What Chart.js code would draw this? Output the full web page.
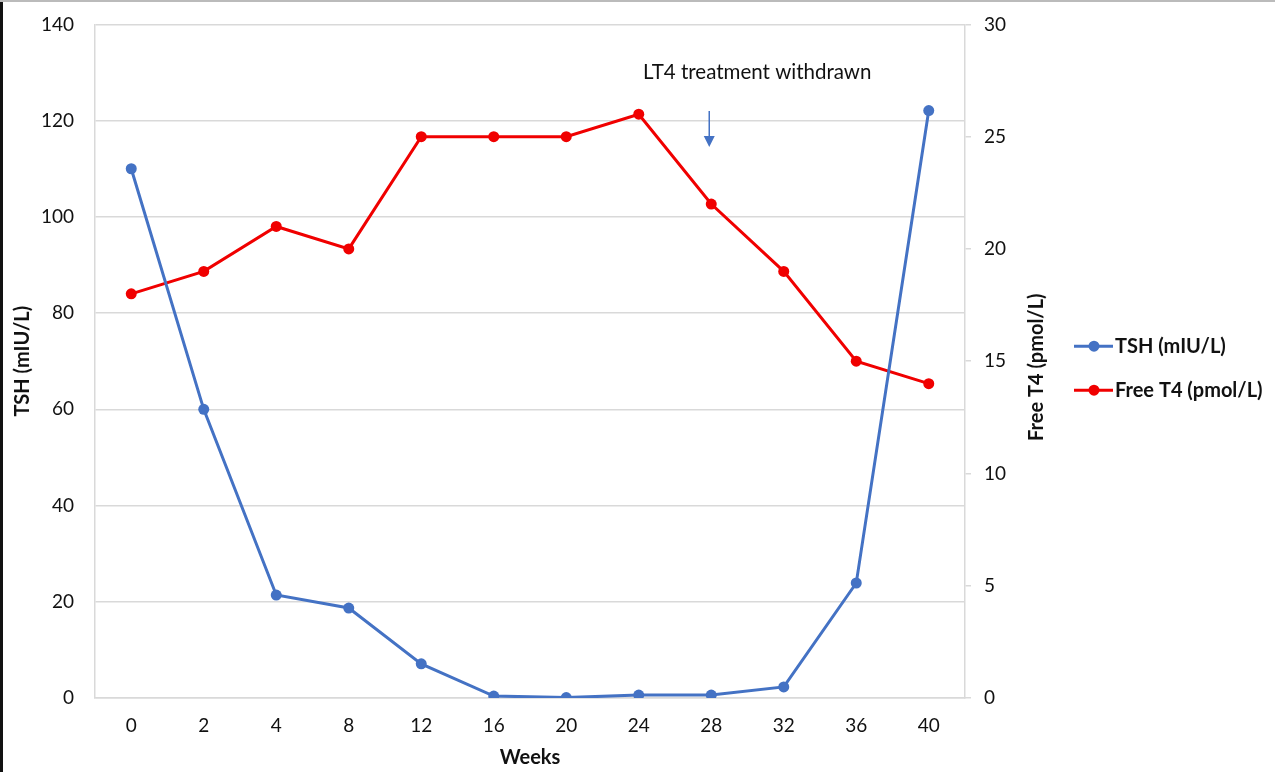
<!DOCTYPE html>
<html>
<head>
<meta charset="utf-8">
<script src="https://cdn.jsdelivr.net/npm/chart.js@4"></script>
<style>
  html, body { margin: 0; padding: 0; background: #fff; overflow: hidden; }
  #wrap { position: relative; width: 1275px; height: 772px; overflow: hidden; }
  #box { position: absolute; left: 0; top: -8px; width: 1275px; height: 780px; }
  #edge-left { position: absolute; left: 0; top: 0; width: 3px; height: 772px; background: #111; }
  #edge-top { position: absolute; left: 0; top: 0; width: 1275px; height: 2px; background: #bbb; }
</style>
</head>
<body>
<div id="wrap">
  <div id="box"><canvas id="chart"></canvas></div>
  <div id="edge-left"></div>
  <div id="edge-top"></div>
</div>
<script>
"use strict";

// Weeks since start, TSH (left axis) and free T4 (right axis).
const weeks = ["0", "2", "4", "8", "12", "16", "20", "24", "28", "32", "36", "40"];
const tsh = [110, 60, 21.4, 18.7, 7.1, 0.4, 0.1, 0.6, 0.6, 2.3, 23.9, 122.1];
const freeT4 = [18, 19, 21, 20, 25, 25, 25, 26, 22, 19, 15, 14];

// Arrow marking when LT4 was stopped (week, TSH-scale start/end of the arrow).
const noteWeek = "28";
const noteText = "LT4 treatment withdrawn";
const noteArrow = [122, 114.5];
const noteTextLevel = 130;

const BLUE = "#4472C4";
const RED = "#F00000";
const GRID = "#d9d9d9";
const FONT = "Lato, 'Open Sans', sans-serif";

// Draws the note, the right axis title (reads bottom-up) and the legend.
const extras = {
  id: "extras",
  afterDraw(chart) {
    const { ctx, chartArea, scales } = chart;
    const x = scales.x, y = scales.y;
    ctx.save();

    // note + arrow
    const ax = x.getPixelForValue(weeks.indexOf(noteWeek)) - 2;
    const y0 = y.getPixelForValue(noteArrow[0]);
    const y1 = y.getPixelForValue(noteArrow[1]);
    ctx.strokeStyle = BLUE;
    ctx.fillStyle = BLUE;
    ctx.lineWidth = 1.5;
    ctx.beginPath();
    ctx.moveTo(ax, y0);
    ctx.lineTo(ax, y1 - 10);
    ctx.stroke();
    ctx.beginPath();
    ctx.moveTo(ax - 5.5, y1 - 11);
    ctx.lineTo(ax + 5.5, y1 - 11);
    ctx.lineTo(ax, y1);
    ctx.closePath();
    ctx.fill();

    ctx.fillStyle = "#111";
    ctx.font = `20.5px ${FONT}`;
    ctx.textAlign = "center";
    ctx.textBaseline = "middle";
    ctx.fillText(noteText, ax + 48, y.getPixelForValue(noteTextLevel));

    // right axis title
    const mid = (chartArea.top + chartArea.bottom) / 2;
    ctx.save();
    ctx.translate(1037, mid + 6);
    ctx.rotate(-Math.PI / 2);
    ctx.font = `bold 20px ${FONT}`;
    ctx.fillText("Free T4 (pmol/L)", 0, 0);
    ctx.restore();

    // legend
    chart.data.datasets.forEach((ds, i) => {
      const ly = mid - 15 + i * 44;
      ctx.strokeStyle = ds.borderColor;
      ctx.fillStyle = ds.borderColor;
      ctx.lineWidth = 3;
      ctx.beginPath();
      ctx.moveTo(1074, ly);
      ctx.lineTo(1113, ly);
      ctx.stroke();
      ctx.beginPath();
      ctx.arc(1094, ly, 5.5, 0, Math.PI * 2);
      ctx.fill();
      ctx.fillStyle = "#111";
      ctx.font = `bold 20px ${FONT}`;
      ctx.textAlign = "left";
      ctx.fillText(ds.label, 1115, ly);
    });
    ctx.restore();
  },
};

const titleFont = { family: FONT, size: 20, weight: "bold" };
const tickFont = { family: FONT, size: 19 };

const cfg = {
  type: "line",
  data: {
    labels: weeks,
    datasets: [
      {
        label: "TSH (mIU/L)",
        yAxisID: "y",
        data: tsh,
        borderColor: BLUE,
        backgroundColor: BLUE,
        borderWidth: 3,
        pointRadius: 5.5,
        pointBorderWidth: 0,
        tension: 0,
      },
      {
        label: "Free T4 (pmol/L)",
        yAxisID: "y1",
        data: freeT4,
        borderColor: RED,
        backgroundColor: RED,
        borderWidth: 3,
        pointRadius: 5.5,
        pointBorderWidth: 0,
        tension: 0,
      },
    ],
  },
  options: {
    responsive: true,
    maintainAspectRatio: false,
    animation: false,
    layout: { padding: { top: 13, right: 224, bottom: 0, left: 0 } },
    plugins: { legend: { display: false }, tooltip: { enabled: false } },
    scales: {
      x: {
        offset: true,
        grid: { display: false, drawTicks: false },
        border: { color: GRID, width: 1.5 },
        ticks: { color: "#111", font: tickFont, padding: 16 },
        title: { display: true, text: "Weeks", color: "#111", font: titleFont, padding: { top: 0, bottom: 2 } },
        afterFit: (s) => { s.height = 74; },
      },
      y: {
        position: "left",
        min: 0, max: 140,
        ticks: { stepSize: 20, color: "#111", font: tickFont, padding: 21 },
        grid: { color: GRID, lineWidth: 1.5, drawTicks: false },
        border: { color: GRID, width: 1.5 },
        title: { display: true, text: "TSH (mIU/L)", color: "#111", font: titleFont, padding: { top: 11, bottom: 0 } },
        afterFit: (s) => { s.width = 95; },
      },
      y1: {
        position: "right",
        min: 0, max: 30,
        ticks: { stepSize: 5, color: "#111", font: tickFont, padding: 13 },
        grid: { drawOnChartArea: false, color: GRID, tickColor: GRID, tickLength: 6, lineWidth: 1.5 },
        border: { color: GRID, width: 1.5 },
        afterFit: (s) => { s.width = 86; },
      },
    },
  },
  plugins: [extras],
};

new Chart(document.getElementById("chart"), cfg);
</script>
</body>
</html>
